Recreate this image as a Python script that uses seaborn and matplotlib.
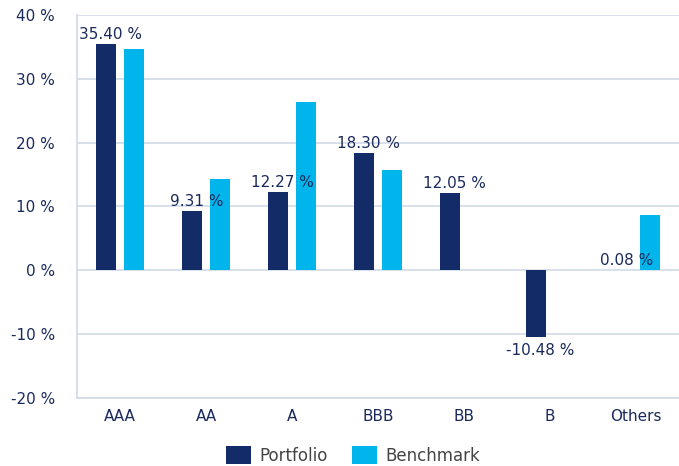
import pandas as pd
import seaborn as sns
import matplotlib.pyplot as plt
from matplotlib.ticker import FuncFormatter, FixedLocator

# data
categories = ['AAA', 'AA', 'A', 'BBB', 'BB', 'B', 'Others']
portfolio = [35.40, 9.31, 12.27, 18.30, 12.05, -10.48, 0.08]
benchmark = [34.6, 14.35, 26.3, 15.7, 0.0, 0.0, 8.6]
series_names = ['Portfolio', 'Benchmark']
label_texts = ['35.40 %', '9.31 %', '12.27 %', '18.30 %', '12.05 %', '-10.48 %', '0.08 %']

navy = '#132b66'
cyan = '#00b4ec'
grid_col = '#d0dae8'
text_col = '#1b2a5c'

df = pd.DataFrame({
    'rating': categories * 2,
    'value': portfolio + benchmark,
    'series': [series_names[0]] * len(categories) + [series_names[1]] * len(categories),
})

sns.set_style('white')
plt.rcParams['font.family'] = ['DejaVu Sans']

fig = plt.figure(figsize=(6.79, 4.66), dpi=100)
ax = fig.add_axes([0.1134, 0.146, 0.8866, 0.822])

sns.barplot(data=df, x='rating', y='value', hue='series', order=categories,
            hue_order=series_names, palette=[navy, cyan], width=0.63, gap=0.26,
            saturation=1, linewidth=0, ax=ax, zorder=2)

ax.set_ylim(-20, 40)
ax.set_yticks(range(-20, 41, 10))
ax.yaxis.set_major_formatter(FuncFormatter(lambda v, p: f'{v:.0f} %'))
ax.set_xlim(-0.5, len(categories) - 0.5)
ax.grid(axis='y', color=grid_col, linewidth=1.2, zorder=0)
ax.set_axisbelow(True)
ax.set_xlabel('')
ax.set_ylabel('')

for side in ['top', 'right']:
    ax.spines[side].set_visible(False)
for side in ['left', 'bottom']:
    ax.spines[side].set_color(grid_col)
    ax.spines[side].set_linewidth(1.2)

# separators between categories under the axis
ax.xaxis.set_minor_locator(FixedLocator([i + 0.5 for i in range(len(categories) - 1)]))
ax.tick_params(axis='x', which='minor', length=10, color=grid_col, width=1.2)
ax.tick_params(axis='x', which='major', length=0, pad=8, labelsize=11, labelcolor=text_col)
ax.tick_params(axis='y', length=0, pad=16, labelsize=11, labelcolor=text_col)

# value labels on the portfolio bars
anns = ax.bar_label(ax.containers[0], labels=label_texts, padding=1.5,
                    fontsize=11, color=text_col, zorder=5)
for a in anns:
    x0, y0 = a.xyann
    a.xyann = (x0 + 3, y0 if y0 > 0 else y0 - 3)

handles, labels = ax.get_legend_handles_labels()
ax.legend_.remove()
leg = fig.legend(handles, labels, loc='lower center', bbox_to_anchor=(0.52, -0.03), ncol=2,
                 frameon=False, fontsize=12, handlelength=1.5, handleheight=1.3,
                 columnspacing=1.5, handletextpad=0.5)
for t in leg.get_texts():
    t.set_color('#444444')

fig.savefig('out.png', dpi=100)
